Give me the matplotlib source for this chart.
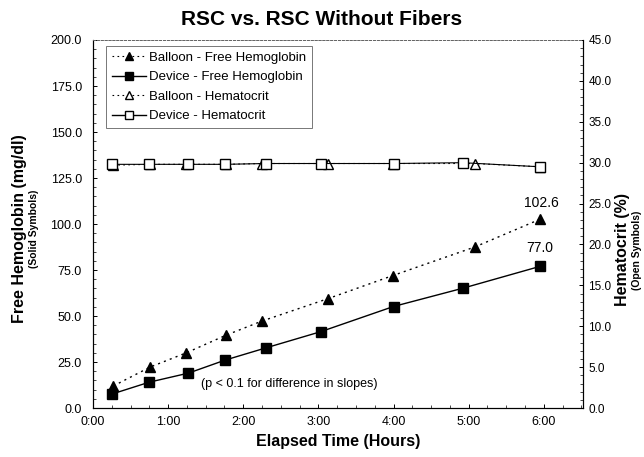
import matplotlib.pyplot as plt
from matplotlib.ticker import MultipleLocator, FuncFormatter
from matplotlib.lines import Line2D

plt.rcParams['font.family'] = ['Liberation Sans', 'DejaVu Sans']

# elapsed time in hours
balloon_t = [0.27, 0.76, 1.24, 1.77, 2.25, 3.13, 3.99, 5.08, 5.95]
device_t = [0.25, 0.75, 1.27, 1.76, 2.30, 3.03, 4.00, 4.92, 5.95]

# free hemoglobin (mg/dl)
balloon_fhb = [12.0, 22.3, 30.0, 39.6, 47.3, 59.5, 72.0, 87.5, 102.6]
device_fhb = [7.6, 14.1, 19.0, 26.1, 32.7, 41.5, 55.2, 65.1, 77.0]

# hematocrit (%)
balloon_hct = [29.7, 29.8, 29.8, 29.8, 29.9, 29.9, 29.9, 29.9, 29.5]
device_hct = [29.8, 29.8, 29.8, 29.8, 29.9, 29.9, 29.9, 30.0, 29.5]

fig = plt.figure(figsize=(6.44, 4.57), dpi=100)
ax = fig.add_axes([0.1444, 0.107, 0.7606, 0.8055])
ax2 = ax.twinx()

ax.plot(balloon_t, balloon_fhb, color='black', linestyle=(0, (1.5, 3)), lw=1,
        marker='^', markersize=7, markerfacecolor='black')
ax.plot(device_t, device_fhb, color='black', linestyle='-', lw=1,
        marker='s', markersize=7, markerfacecolor='black')

ax2.plot(balloon_t, balloon_hct, color='black', linestyle=(0, (1.5, 3)), lw=0.8,
         marker='^', markersize=7, markerfacecolor='white')
ax2.plot(device_t, device_hct, color='black', linestyle='-', lw=0.8,
         marker='s', markersize=7, markerfacecolor='white')

ax.set_xlim(0, 6.52)
ax.set_ylim(0, 200)
ax2.set_ylim(0, 45)

ax.xaxis.set_major_locator(MultipleLocator(1))
ax.xaxis.set_minor_locator(MultipleLocator(0.25))
ax.xaxis.set_major_formatter(FuncFormatter(lambda v, p: '%d:00' % round(v)))
ax.yaxis.set_major_locator(MultipleLocator(25))
ax.yaxis.set_minor_locator(MultipleLocator(5))
ax.yaxis.set_major_formatter(FuncFormatter(lambda v, p: '%.1f' % v))
ax2.yaxis.set_major_locator(MultipleLocator(5))
ax2.yaxis.set_minor_locator(MultipleLocator(1))
ax2.yaxis.set_major_formatter(FuncFormatter(lambda v, p: '%.1f' % v))

for a in (ax, ax2):
    a.tick_params(which='major', length=3, width=0.7, labelsize=9, direction='in')
    a.tick_params(which='minor', length=2, width=0.5, direction='in')
    a.spines['top'].set_linestyle((0, (2, 2)))
    a.spines['top'].set_color('#666666')
    a.spines['top'].set_linewidth(0.7)
ax.tick_params(axis='x', pad=6)
ax.tick_params(axis='y', pad=8)
ax2.tick_params(axis='y', pad=4, labelsize=8.5)

fig.text(0.5, 0.958, 'RSC vs. RSC Without Fibers', ha='center', va='center',
         fontsize=15, fontweight='bold')
ax.set_xlabel('Elapsed Time (Hours)', fontsize=11.5, fontweight='bold', labelpad=4)

fig.text(0.030, 0.50, 'Free Hemoglobin (mg/dl)', rotation=90, ha='center', va='center',
         fontsize=11.5, fontweight='bold')
fig.text(0.053, 0.50, '(Solid Symbols)', rotation=90, ha='center', va='center',
         fontsize=7.5, fontweight='bold')
fig.text(0.967, 0.453, 'Hematocrit (%)', rotation=90, ha='center', va='center',
         fontsize=11.5, fontweight='bold')
fig.text(0.989, 0.453, '(Open Symbols)', rotation=90, ha='center', va='center',
         fontsize=7.5, fontweight='bold')

ax.annotate('%.1f' % balloon_fhb[-1], (balloon_t[-1], balloon_fhb[-1]),
            xytext=(1, 12), textcoords='offset points', ha='center', va='center',
            fontsize=10)
ax.annotate('%.1f' % device_fhb[-1], (device_t[-1], device_fhb[-1]),
            xytext=(0, 13), textcoords='offset points', ha='center', va='center',
            fontsize=10)
ax.text(0.40, 0.065, '(p < 0.1 for difference in slopes)', transform=ax.transAxes,
        ha='center', va='center', fontsize=9)

handles = [
    Line2D([], [], color='black', linestyle=(0, (1.5, 3)), lw=0.8, marker='^',
           markersize=6, markerfacecolor='black'),
    Line2D([], [], color='black', linestyle='-', lw=1, marker='s',
           markersize=6, markerfacecolor='black'),
    Line2D([], [], color='black', linestyle=(0, (1.5, 3)), lw=0.8, marker='^',
           markersize=6, markerfacecolor='white'),
    Line2D([], [], color='black', linestyle='-', lw=1, marker='s',
           markersize=6, markerfacecolor='white'),
]
labels = ['Balloon - Free Hemoglobin', 'Device - Free Hemoglobin',
          'Balloon - Hematocrit', 'Device - Hematocrit']
leg = ax.legend(handles, labels, loc='upper left', bbox_to_anchor=(0.027, 0.985),
                fontsize=9.5, frameon=True, fancybox=False, handlelength=2.6,
                handletextpad=0.2, borderpad=0.45, labelspacing=0.55,
                borderaxespad=0)
leg.get_frame().set_edgecolor('#555555')
leg.get_frame().set_linewidth(0.7)

fig.savefig('out.png', dpi=100)
